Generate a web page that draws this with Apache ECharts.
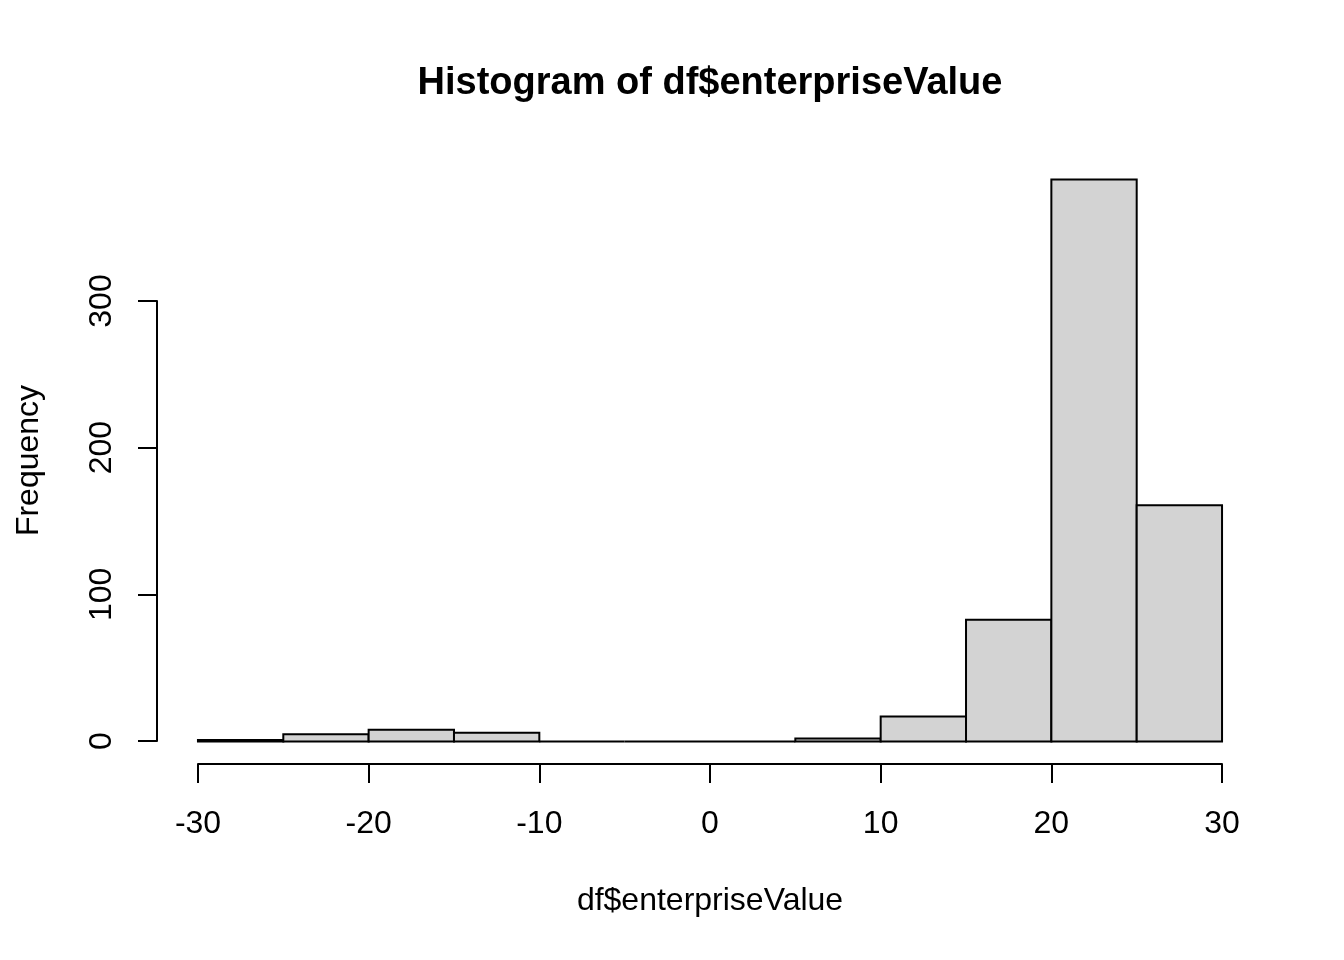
<!DOCTYPE html>
<html>
<head>
<meta charset="utf-8">
<script src="https://cdn.jsdelivr.net/npm/echarts@6/dist/echarts.min.js"></script>
<style>html,body{margin:0;padding:0;background:#fff}#c{width:1344px;height:960px}</style>
</head>
<body>
<div id="c"></div>
<script>
var binStarts = [-30, -25, -20, -15, -10, -5, 0, 5, 10, 15, 20, 25];
var binEnds   = [-25, -20, -15, -10, -5, 0, 5, 10, 15, 20, 25, 30];
var counts    = [1, 5, 8, 6, 0, 0, 0, 2, 17, 83, 383, 161];
var xTicks = [-30, -20, -10, 0, 10, 20, 30];
var yTicks = [0, 100, 200, 300];

var FONT = "'Liberation Sans', Arial, Helvetica, sans-serif";
var chart = echarts.init(document.getElementById('c'));
var data = binStarts.map(function (s, i) { return [s, binEnds[i], counts[i]]; });

var xLo = binStarts[0], xHi = binEnds[binEnds.length - 1];
var xmin = xLo - 0.04 * (xHi - xLo);
var xmax = xHi + 0.04 * (xHi - xLo);
var ymaxData = Math.max.apply(null, counts);
var ymin = -0.04 * ymaxData, ymax = ymaxData * 1.04;

var hiddenAxis = {
  axisLine: { show: false }, axisTick: { show: false }, axisLabel: { show: false }, splitLine: { show: false }
};

chart.setOption({
  animation: false,
  backgroundColor: '#ffffff',
  title: {
    text: 'Histogram of df$enterpriseValue',
    left: 705, top: 60, textAlign: 'center',
    textStyle: { fontFamily: FONT, fontSize: 38, fontWeight: 'bold', color: '#000' }
  },
  grid: [
    { left: 157, right: 81, top: 157, bottom: 196 },
    { left: 198, right: 122, top: 764, height: 1 },
    { left: 157, width: 1, top: 301, bottom: 219 }
  ],
  xAxis: [
    Object.assign({ type: 'value', gridIndex: 0, min: xmin, max: xmax,
      name: 'df$enterpriseValue', nameLocation: 'middle', nameGap: 121,
      nameTextStyle: { fontFamily: FONT, fontSize: 32, color: '#000' } }, hiddenAxis),
    { type: 'value', gridIndex: 1, min: xTicks[0], max: xTicks[xTicks.length - 1], interval: 10, position: 'top',
      axisLine: { show: true, onZero: false, lineStyle: { color: '#000', width: 2 } },
      axisTick: { show: true, inside: true, length: 19, lineStyle: { color: '#000', width: 2 } },
      axisLabel: { show: true, inside: true, margin: 44, fontFamily: FONT, fontSize: 32, color: '#000',
        showMinLabel: true, showMaxLabel: true },
      splitLine: { show: false } },
    Object.assign({ type: 'value', gridIndex: 2, min: 0, max: 1 }, hiddenAxis)
  ],
  yAxis: [
    Object.assign({ type: 'value', gridIndex: 0, min: ymin, max: ymax,
      name: 'Frequency', nameLocation: 'middle', nameGap: 112, nameRotate: 90,
      nameTextStyle: { fontFamily: FONT, fontSize: 32, color: '#000' } }, hiddenAxis),
    Object.assign({ type: 'value', gridIndex: 1, min: 0, max: 1 }, hiddenAxis),
    { type: 'value', gridIndex: 2, min: yTicks[0], max: yTicks[yTicks.length - 1], interval: 100, position: 'left',
      axisLine: { show: true, onZero: false, lineStyle: { color: '#000', width: 2 } },
      axisTick: { show: true, length: 19, lineStyle: { color: '#000', width: 2 } },
      axisLabel: { show: true, margin: 39, rotate: 90, fontFamily: FONT, fontSize: 32, color: '#000',
        showMinLabel: true, showMaxLabel: true },
      splitLine: { show: false } }
  ],
  series: [{
    type: 'custom',
    xAxisIndex: 0, yAxisIndex: 0,
    data: data,
    clip: false,
    renderItem: function (params, api) {
      var p0 = api.coord([api.value(0), 0]);
      var p1 = api.coord([api.value(1), api.value(2)]);
      return {
        type: 'rect',
        shape: { x: p0[0], y: p1[1], width: p1[0] - p0[0], height: p0[1] - p1[1] },
        style: { fill: '#D3D3D3', stroke: '#000', lineWidth: 2 }
      };
    }
  }]
});
</script>
</body>
</html>
